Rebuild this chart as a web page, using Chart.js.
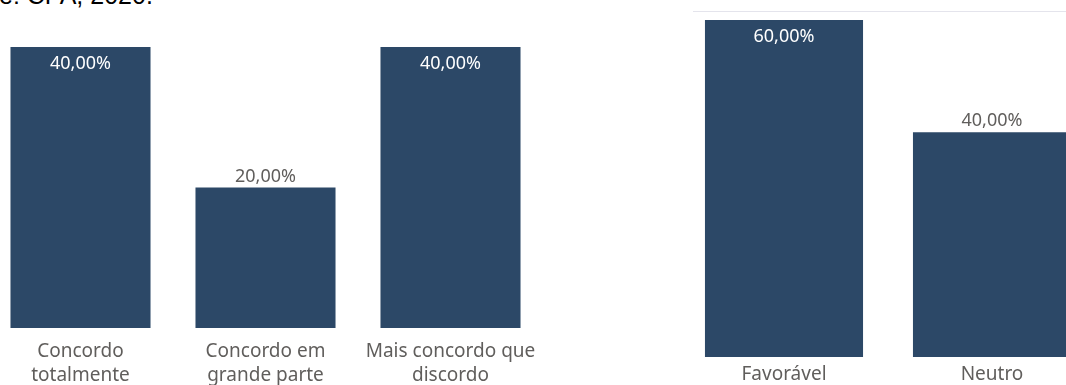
<!DOCTYPE html>
<html lang="pt-BR">
<head>
<meta charset="utf-8">
<title>Concordância e avaliação</title>
<script src="https://cdn.jsdelivr.net/npm/chart.js@4"></script>
<style>
  html, body { margin: 0; padding: 0; background: #fff; }
  body { width: 1066px; height: 385px; overflow: hidden; position: relative; }
  .fonte {
    position: absolute; left: -51px; top: -17px;
    font-family: "Liberation Sans", Arial, sans-serif; font-size: 25px; line-height: 1;
    color: #000; white-space: nowrap;
  }
  .linha-topo { position: absolute; left: 693px; top: 11px; width: 373px; height: 1px; background: #e4e4ec; }
  #concordancia { position: absolute; left: -12px; top: 47px; }
  #avaliacao { position: absolute; left: 680px; top: 20px; }
</style>
</head>
<body>
<div class="fonte">Fonte: CPA, 2020.</div>
<div class="linha-topo"></div>
<canvas id="concordancia" width="555" height="338"></canvas>
<canvas id="avaliacao" width="416" height="365"></canvas>
<script>
const categoriasConcordancia = [['Concordo', 'totalmente'], ['Concordo em', 'grande parte'], ['Mais concordo que', 'discordo']];
const valoresConcordancia = [40, 20, 40];
const categoriasAvaliacao = ['Favorável', 'Neutro'];
const valoresAvaliacao = [60, 40];

const corBarra = '#2c4867';
const corTexto = '#605e5c';
const fonte = '"Noto Sans", "Open Sans", sans-serif';

// rótulos de valor: dentro da barra (branco) na maior, acima nas demais
const rotulosValor = {
  id: 'rotulosValor',
  afterDatasetsDraw(chart) {
    const { ctx } = chart;
    const dados = chart.data.datasets[0].data;
    const maior = Math.max(...dados);
    ctx.save();
    ctx.font = '18px ' + fonte;
    ctx.textAlign = 'center';
    ctx.textBaseline = 'middle';
    chart.getDatasetMeta(0).data.forEach((barra, i) => {
      const v = dados[i];
      const texto = v.toFixed(2).replace('.', ',') + '%';
      if (v === maior) {
        ctx.fillStyle = '#ffffff';
        ctx.fillText(texto, barra.x, barra.y + 17);
      } else {
        ctx.fillStyle = corTexto;
        ctx.fillText(texto, barra.x, barra.y - 11);
      }
    });
    ctx.restore();
  }
};

function criarGrafico(id, categorias, valores, maximo, largura, alturaEixo, espaco) {
  return new Chart(document.getElementById(id), {
    type: 'bar',
    data: {
      labels: categorias,
      datasets: [{
        data: valores,
        backgroundColor: corBarra,
        borderWidth: 0,
        categoryPercentage: 1,
        barPercentage: largura
      }]
    },
    options: {
      responsive: false,
      animation: false,
      devicePixelRatio: 1,
      layout: { padding: 0 },
      plugins: { legend: { display: false }, tooltip: { enabled: false } },
      scales: {
        x: {
          grid: { display: false, drawTicks: false },
          border: { display: false },
          ticks: {
            color: corTexto,
            font: { family: fonte, size: 19, lineHeight: 1.263 },
            padding: espaco,
            maxRotation: 0,
            autoSkip: false
          },
          // altura fixa do eixo e sem recuo lateral pelos rótulos longos
          afterFit: s => {
            s.height = alturaEixo;
            s.paddingLeft = 0;
            s.paddingRight = 0;
          }
        },
        y: { display: false, min: 0, max: maximo }
      }
    },
    plugins: [rotulosValor]
  });
}

criarGrafico('concordancia', categoriasConcordancia, valoresConcordancia, 40, 0.757, 57, 12);
criarGrafico('avaliacao', categoriasAvaliacao, valoresAvaliacao, 60, 0.76, 28, 6);
</script>
</body>
</html>
